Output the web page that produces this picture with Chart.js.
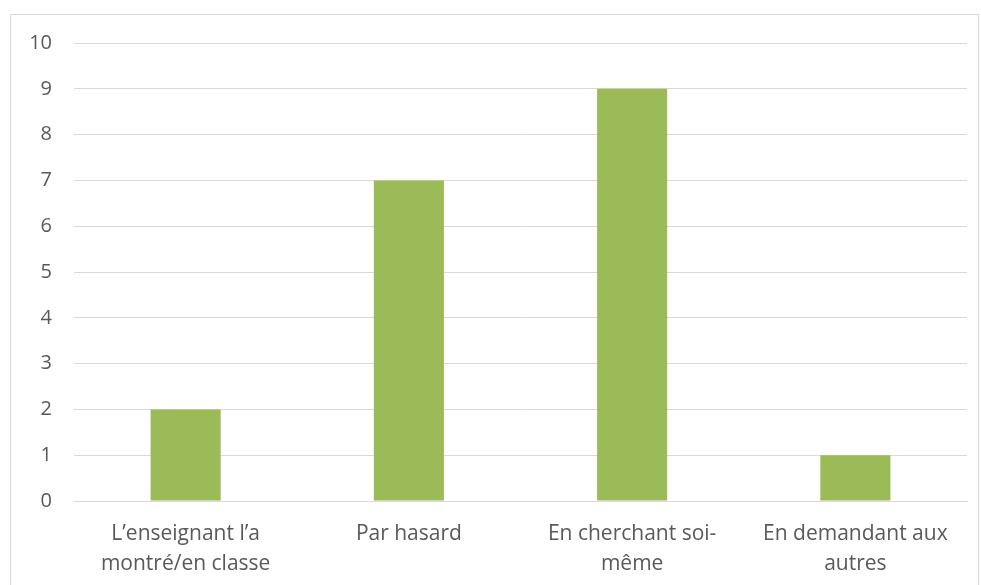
<!DOCTYPE html>
<html>
<head>
<meta charset="utf-8">
<script src="https://cdn.jsdelivr.net/npm/chart.js@4/dist/chart.umd.min.js"></script>
<style>
  body { margin: 0; background: #fff; }
  #wrap { width: 981px; height: 585px; position: relative; }
</style>
</head>
<body>
<div id="wrap"><canvas id="myChart" width="981" height="585"></canvas></div>
<script>
const categories = [
  ['L\u2019enseignant l\u2019a', 'montré/en classe'],
  ['Par hasard'],
  ['En cherchant soi-', 'même'],
  ['En demandant aux', 'autres']
]
const values = [2, 7, 9, 1]
const yTicks = [0, 1, 2, 3, 4, 5, 6, 7, 8, 9, 10]

const frame = {
  id: 'frame',
  beforeDraw(chart) {
    const c = chart.ctx
    c.save()
    c.strokeStyle = '#d9d9d9'
    c.lineWidth = 1
    c.strokeRect(10.5, 14.5, 968, 620)
    c.restore()
  }
}

const ctx = document.getElementById('myChart')
new Chart(ctx, {
  type: 'bar',
  data: {
    labels: categories,
    datasets: [{
      data: values,
      backgroundColor: '#9bbb59',
      categoryPercentage: 1,
      barPercentage: 0.314
    }]
  },
  options: {
    responsive: false,
    animation: false,
    layout: { padding: { left: 10, right: 14, top: 43, bottom: 10 } },
    plugins: { legend: { display: false }, tooltip: { enabled: false } },
    scales: {
      y: {
        min: 0,
        max: 10,
        afterBuildTicks(scale) { scale.ticks = yTicks.map(v => ({ value: v })) },
        afterFit(scale) { scale.width = 64 },
        border: { display: false },
        grid: { color: '#d9d9d9', drawTicks: false },
        ticks: { color: '#595959', font: { family: 'Open Sans', size: 20 }, padding: 22 }
      },
      x: {
        afterFit(scale) { scale.height = 74 },
        border: { color: '#d9d9d9' },
        grid: { display: false, drawTicks: false },
        ticks: { color: '#595959', font: { family: 'Open Sans', size: 21, lineHeight: 1.43 }, padding: 18, maxRotation: 0 }
      }
    }
  },
  plugins: [frame]
})
</script>
</body>
</html>
